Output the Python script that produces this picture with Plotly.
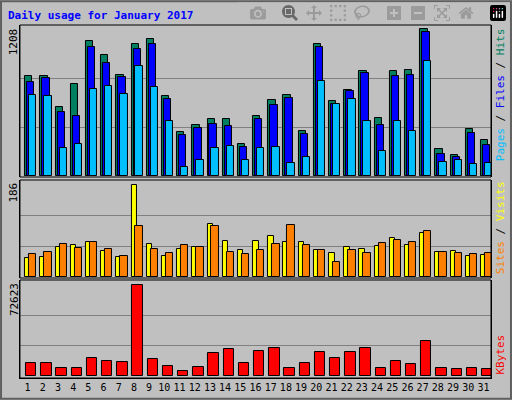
import plotly.graph_objects as go

days = list(range(1, 32))
day_labels = [str(d) for d in days]
weekend = [1, 7, 8, 14, 15, 21, 22, 28, 29]
hits = [827, 827, 572, 761, 1115, 1000, 835, 1090, 1131, 655, 359, 416, 466, 466, 260, 498,
        622, 671, 367, 1090, 614, 712, 868, 474, 868, 876, 1208, 219, 170, 383, 293]
files = [770, 803, 523, 490, 1065, 934, 811, 1049, 1090, 630, 334, 392, 425, 408, 236, 466,
         581, 646, 342, 1065, 589, 696, 844, 416, 827, 835, 1189, 178, 153, 351, 252]
pages = [671, 655, 227, 260, 720, 737, 679, 909, 729, 449, 71, 129, 227, 244, 129, 227,
         236, 104, 153, 786, 589, 630, 449, 203, 457, 367, 950, 112, 129, 96, 104]
sites = [38, 41, 61, 65, 71, 53, 41, 186, 67, 42, 57, 61, 107, 73, 55, 73,
         83, 71, 71, 55, 49, 61, 57, 63, 79, 65, 89, 51, 53, 42, 44]
visits = [47, 51, 67, 59, 71, 57, 42, 103, 57, 49, 65, 61, 103, 51, 47, 55,
          67, 105, 65, 55, 30, 55, 49, 69, 75, 71, 93, 51, 49, 47, 49]
kbytes = [9805, 9805, 5830, 5830, 13780, 11395, 10600, 72623, 12985, 7420, 3445, 6625, 17755,
          20935, 9805, 19345, 21730, 5830, 9805, 18550, 13780, 18550, 21730, 5830, 11395,
          9010, 27295, 5830, 5035, 5830, 5035]
max_hits, max_sites, max_kb = 1208, 186, 72623

fig = go.Figure()
ln = dict(color="black", width=1)
def bar(y, color, off, w, ax):
    fig.add_trace(go.Bar(x=days, y=y, offset=off, width=w, marker=dict(color=color, line=ln),
                         xaxis="x", yaxis=ax, showlegend=False, hoverinfo="y"))
bar(hits, "#008060", -0.16, 0.48, "y")
bar(files, "#0000FF", -0.03, 0.48, "y")
bar(pages, "#00BFFF", 0.10, 0.48, "y")
bar(sites, "#FFFF00", -0.16, 0.36, "y2")
bar(visits, "#FF8000", 0.10, 0.48, "y2")
bar(kbytes, "#FF0000", -0.1, 0.68, "y3")

grid = dict(showticklabels=False, ticks="", gridcolor="#808080", gridwidth=1, zeroline=False,
            showline=True, linecolor="black", mirror=True)
ticktext = [f"<span style='color:#008060'>{d}</span>" if d in weekend else d for d in day_labels]
fig.update_layout(
    width=512, height=400, margin=dict(l=0, r=0, t=0, b=0),
    paper_bgcolor="#C0C0C0", plot_bgcolor="#C0C0C0", barmode="overlay", bargap=0,
    font=dict(family="DejaVu Sans Mono", size=11, color="black"),
    xaxis=dict(domain=[0.039, 0.959], range=[0.5, 31.5], tickvals=days, ticktext=ticktext,
               ticks="", showgrid=False, zeroline=False, anchor="y3", showline=True,
               linecolor="black", mirror=False, tickangle=0, tickfont=dict(size=10)),
    yaxis=dict(domain=[0.5575, 0.9375], range=[-8, 1243], tickvals=[max_hits / 3, 2 * max_hits / 3], **grid),
    yaxis2=dict(domain=[0.305, 0.55], range=[-2, 197], tickvals=[max_sites / 3, 2 * max_sites / 3], **grid),
    yaxis3=dict(domain=[0.055, 0.30], range=[-2000, 76500], tickvals=[max_kb / 3, 2 * max_kb / 3], **grid),
)
for y0, y1 in [(0.5575, 0.9375), (0.305, 0.55), (0.055, 0.30)]:
    fig.add_shape(type="rect", xref="paper", yref="paper", x0=0.039, x1=0.959, y0=y0, y1=y1,
                  line=dict(color="black", width=1))
fig.add_shape(type="rect", xref="paper", yref="paper", x0=0.002, x1=0.998, y0=0.003, y1=0.997,
              line=dict(color="#606060", width=2))

def ann(text, x, y, yanchor, color="black"):
    fig.add_annotation(text=text, x=x, y=y, xref="paper", yref="paper", showarrow=False,
                       textangle=-90, yanchor=yanchor, xanchor="center",
                       font=dict(color=color, size=11, family="DejaVu Sans Mono"))
fig.add_annotation(text="<b>Daily usage for January 2017</b>", x=0.012, y=0.962, xref="paper",
                   yref="paper", showarrow=False, xanchor="left", yanchor="middle",
                   font=dict(color="#0000FF", size=11, family="DejaVu Sans Mono"))
ann(str(max_hits), 0.027, 0.935, "top")
ann(str(max_sites), 0.027, 0.548, "top")
ann(str(max_kb), 0.027, 0.298, "top")
ann("<span style='color:#00BFFF'>Pages</span> / <span style='color:#0000FF'>Files</span> / <span style='color:#008060'>Hits</span>",
    0.978, 0.935, "top")
ann("<span style='color:#FF8000'>Sites</span> / <span style='color:#FFFF00'>Visits</span>", 0.978, 0.31, "bottom")
ann("KBytes", 0.978, 0.058, "bottom", color="#FF0000")

fig.write_html("out.html", post_script="document.body.style.margin='0';document.body.style.overflow='hidden';")
